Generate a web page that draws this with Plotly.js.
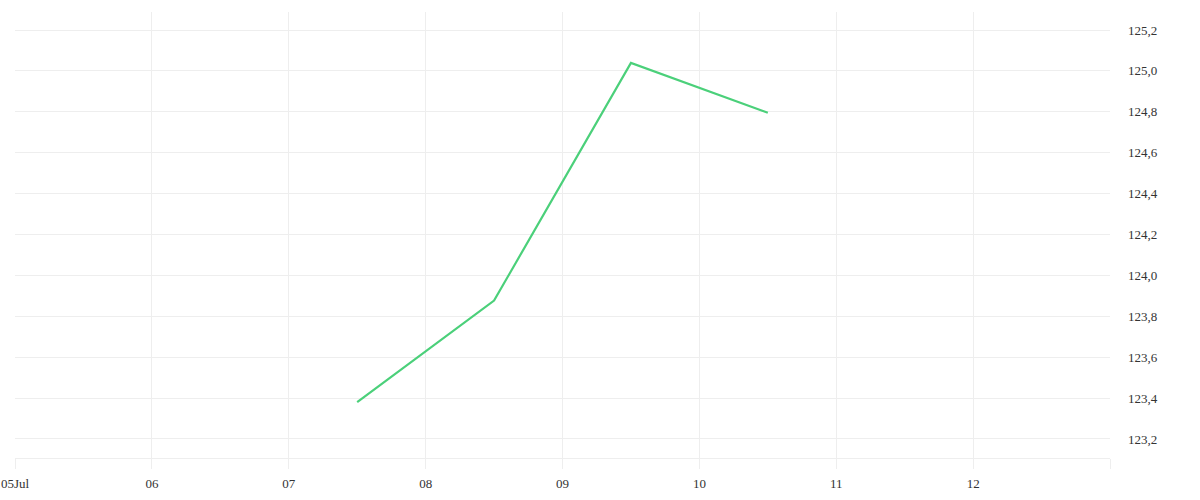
<!DOCTYPE html>
<html>
<head>
<meta charset="utf-8">
<script src="https://cdn.plot.ly/plotly-3.0.1.min.js"></script>
<style>
	body { margin: 0; background: #fff; }
	#chart { width: 1200px; height: 500px; }
</style>
</head>
<body>
<div id="chart"></div>
<script>
// точки цены (полдень каждого дня)
var dates = ['2024-07-07 12:00', '2024-07-08 12:00', '2024-07-09 12:00', '2024-07-10 12:00'];
var prices = [123.38, 123.877, 125.039, 124.795];

// подписи дней по оси x
var tickDays = ['2024-07-05', '2024-07-06', '2024-07-07', '2024-07-08', '2024-07-09',
	'2024-07-10', '2024-07-11', '2024-07-12', '2024-07-13'];
var tickLabels = ['05Jul', '06', '07', '08', '09', '10', '11', '12', ''];

function draw(id){
	var line = {
		x: dates,
		y: prices,
		type: 'scatter',
		mode: 'lines',
		line: {
			color: '#4bd07a',
			width: 2.2
		},
		hoverinfo: 'none'
	};

	var layout = {
		width: 1200,
		height: 500,
		margin: {l: 15, r: 90, t: 12, b: 42},
		paper_bgcolor: '#ffffff',
		plot_bgcolor: '#ffffff',
		showlegend: false,
		separators: ',.',
		font: {family: 'Liberation Serif, serif', size: 13, color: '#333'},
		xaxis: {
			type: 'date',
			range: ['2024-07-05', '2024-07-13'],
			tickmode: 'array',
			tickvals: tickDays,
			ticktext: tickLabels,
			showgrid: true,
			gridcolor: '#eeeeee',
			gridwidth: 1,
			ticks: 'outside',
			ticklen: 10,
			tickcolor: '#eeeeee',
			ticklabelstandoff: 3,
			showline: true,
			linecolor: '#eeeeee',
			linewidth: 1,
			zeroline: false
		},
		yaxis: {
			side: 'right',
			range: [123.107, 125.288],
			tick0: 123.2,
			dtick: 0.2,
			tickformat: '.1f',
			showgrid: true,
			gridcolor: '#eeeeee',
			gridwidth: 1,
			ticks: '',
			ticklabelstandoff: 17,
			showline: false,
			zeroline: false
		}
	};

	Plotly.newPlot(id, [line], layout, {displayModeBar: false, staticPlot: true});
}

draw('chart');
</script>
</body>
</html>
